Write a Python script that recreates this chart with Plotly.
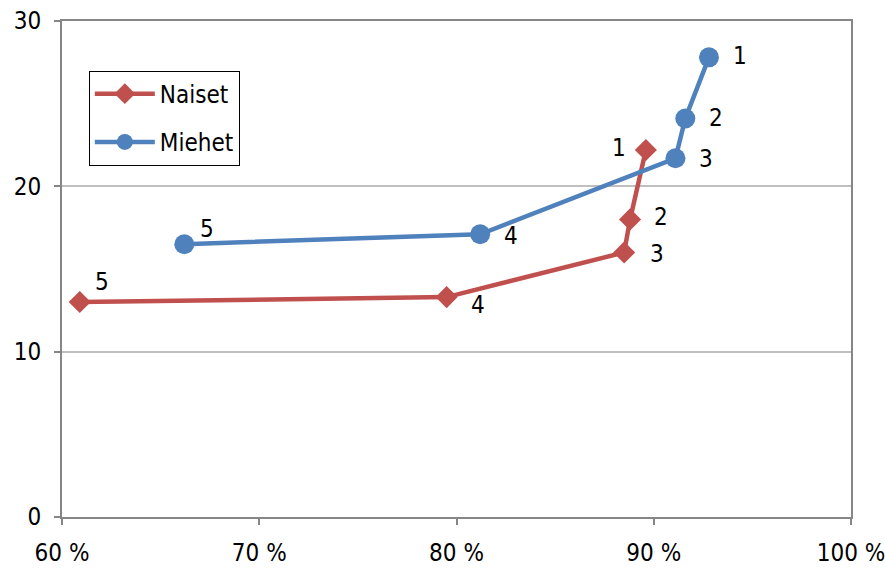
import plotly.graph_objects as go

# Share (%) vs. value for each group, points labelled 1..5
naiset_x = [89.6, 88.8, 88.5, 79.5, 60.9]
naiset_y = [22.2, 18.0, 16.0, 13.3, 13.0]
miehet_x = [92.8, 91.6, 91.1, 81.2, 66.2]
miehet_y = [27.8, 24.1, 21.7, 17.1, 16.5]
point_labels = ["1", "2", "3", "4", "5"]

x_ticks = [60, 70, 80, 90, 100]
x_tick_text = ["60 %", "70 %", "80 %", "90 %", "100 %"]
y_ticks = [0, 10, 20, 30]

RED = "#C0504D"
BLUE = "#4F81BD"
FONT = "Liberation Sans Narrow, DejaVu Sans Condensed, Open Sans"
FS = 24

fig = go.Figure()
fig.add_trace(go.Scatter(
    x=naiset_x, y=naiset_y, name="Naiset", mode="lines+markers",
    legendgroup="n",
    line=dict(color=RED, width=4.5),
    marker=dict(symbol="diamond", size=17, color=RED),
))
fig.add_trace(go.Scatter(
    x=miehet_x, y=miehet_y, name="Miehet", mode="lines+markers",
    legendgroup="m",
    line=dict(color=BLUE, width=4.5),
    marker=dict(symbol="circle", size=20, color=BLUE),
))

# label offsets (pixels) for each point label
naiset_shift = [(-27, 2), (31, 2), (33, -2), (31, -8), (22, 20)]
miehet_shift = [(31, 1), (31, 1), (31, -1), (31, -2), (23, 15)]

for xs, ys, shifts in [(naiset_x, naiset_y, naiset_shift), (miehet_x, miehet_y, miehet_shift)]:
    for x, y, lab, (dx, dy) in zip(xs, ys, point_labels, shifts):
        fig.add_annotation(
            x=x, y=y, text=lab, showarrow=False,
            xshift=dx, yshift=dy,
            font=dict(family=FONT, size=FS, color="black"),
        )

fig.update_layout(
    width=885, height=572,
    margin=dict(l=62, r=34, t=21, b=55, autoexpand=False),
    paper_bgcolor="white", plot_bgcolor="white",
    font=dict(family=FONT, size=FS, color="black"),
    showlegend=True,
    legend=dict(
        x=0.034, y=0.9, xanchor="left", yanchor="top",
        bordercolor="black", borderwidth=1, bgcolor="white",
        font=dict(family=FONT, size=FS, color="black"),
        itemwidth=60, tracegroupgap=14,
    ),
)
fig.update_xaxes(
    range=[60, 100], tickvals=x_ticks, ticktext=x_tick_text,
    showgrid=False, showline=True, linecolor="#868686", linewidth=2,
    mirror=True, ticks="outside", ticklen=6, tickcolor="#868686", tickwidth=2,
    zeroline=False, tickfont=dict(size=FS), automargin=False,
    ticklabelstandoff=7, ticklabeloverflow="allow",
)
fig.update_yaxes(
    range=[0, 30], tickvals=y_ticks,
    showgrid=True, gridcolor="#BFBFBF", gridwidth=1.5,
    showline=True, linecolor="#868686", linewidth=2,
    mirror=True, ticks="outside", ticklen=6, tickcolor="#868686", tickwidth=2,
    zeroline=False, tickfont=dict(size=FS), automargin=False,
    ticklabelstandoff=8, ticklabeloverflow="allow",
)

fig.write_html("out.html")
